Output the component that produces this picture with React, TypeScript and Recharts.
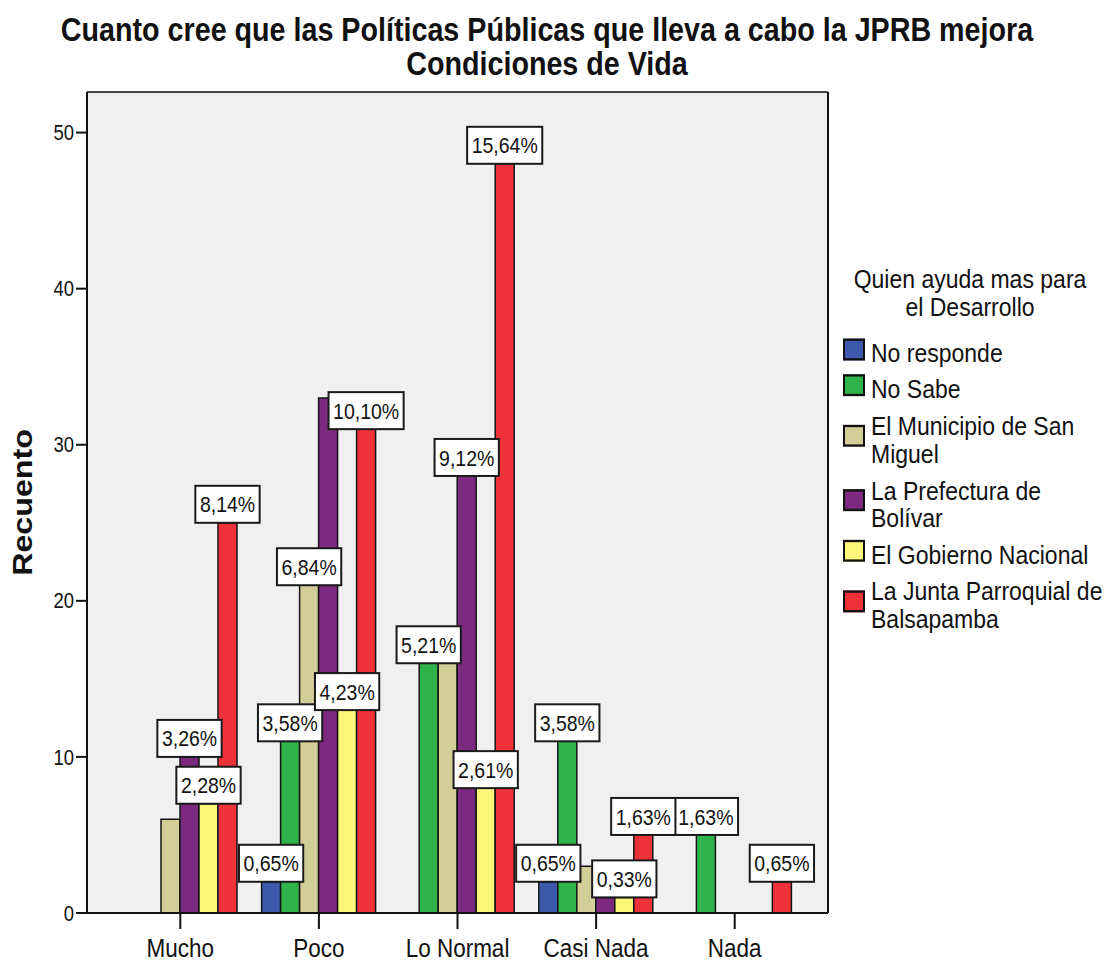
import { BarChart, Bar, Line, XAxis, YAxis, CartesianGrid, Legend, LabelList } from 'recharts'

const categories = ['Mucho', 'Poco', 'Lo Normal', 'Casi Nada', 'Nada']
const seriesNames = [
    'No responde',
    'No Sabe',
    'El Municipio de San Miguel',
    'La Prefectura de Bolívar',
    'El Gobierno Nacional',
    'La Junta Parroquial de Balsapamba',
]
const noResponde = [0, 2, 0, 2, 0]
const noSabe = [0, 11, 16, 11, 5]
const municipio = [6, 21, 16, 3, 0]
const prefectura = [10, 33, 28, 1, 0]
const gobierno = [7, 13, 8, 1, 0]
const junta = [25, 31, 48, 5, 2]

// percent labels SPSS kept visible (the overlapping ones are blank)
const lblNoResponde = ['', '0,65%', '', '0,65%', '']
const lblNoSabe = ['', '3,58%', '5,21%', '3,58%', '1,63%']
const lblMunicipio = ['', '6,84%', '', '', '']
const lblPrefectura = ['3,26%', '', '9,12%', '', '']
const lblGobierno = ['2,28%', '4,23%', '2,61%', '0,33%', '']
const lblJunta = ['8,14%', '10,10%', '15,64%', '1,63%', '0,65%']

const yTicks = [0, 10, 20, 30, 40, 50]

const values = [noResponde, noSabe, municipio, prefectura, gobierno, junta]
const labels = [lblNoResponde, lblNoSabe, lblMunicipio, lblPrefectura, lblGobierno, lblJunta]
const colors = ['#3D59AB', '#2FB44B', '#D3CE97', '#7B2A80', '#FBF77A', '#EE3239']

const data = categories.map((cat, i) => {
    const row: Record<string, string | number> = { cat }
    values.forEach((v, s) => {
        row['s' + s] = v[i]
        row['l' + s] = labels[s][i]
    })
    return row
})

const FONT = "'Liberation Sans', Arial, sans-serif"
const STRETCH = 1.15
const W = 1105
const H = 961
const Y_MAX = 52.6
const MARGIN = { top: 91, right: 276, bottom: 8, left: 27 }
const OVERLAY_MARGIN = { top: 92, right: 277, bottom: 8, left: 27 }

const charW: Record<string, number> = { ',': 0.278, '%': 0.889 }
const textWidth = (s: string, size: number) =>
    s.split('').reduce((a, c) => a + (charW[c] ?? 0.556), 0) * size

const YTick = (props: any) => {
    const { x, y, payload } = props
    return (
        <text
            transform={`translate(${x},${y}) scale(1,${STRETCH})`}
            y={6.6}
            textAnchor="end"
            fontFamily={FONT}
            fontSize={18.5}
            fill="#111"
        >
            {payload.value}
        </text>
    )
}

const XTick = (props: any) => {
    const { x, y, payload } = props
    return (
        <text
            transform={`translate(${x},${y}) scale(1,${STRETCH})`}
            y={22.5}
            textAnchor="middle"
            fontFamily={FONT}
            fontSize={22.5}
            fill="#111"
        >
            {payload.value}
        </text>
    )
}

const renderYLabel = (props: any) => {
    const vb = props.viewBox
    const cx = vb.x + 5
    const cy = vb.y + vb.height / 2
    return (
        <text
            transform={`translate(${cx},${cy}) rotate(-90) scale(${STRETCH},1)`}
            textAnchor="middle"
            fontFamily={FONT}
            fontWeight="bold"
            fontSize={28}
            fill="#111"
        >
            Recuento
        </text>
    )
}

const BoxLabel = (props: any) => {
    const vb = props.viewBox ?? props
    const { x, y, width } = vb
    const value = props.value
    if (!value) return null
    const cx = x + width / 2
    const w = textWidth(String(value), 19.5) + 9
    const h = 37
    return (
        <g>
            <rect x={cx - w / 2} y={y - h} width={w} height={h} fill="#fff" stroke="#1a1a1a" strokeWidth={2} />
            <text
                transform={`translate(${cx},${y - h / 2}) scale(1,${STRETCH})`}
                y={7}
                textAnchor="middle"
                fontFamily={FONT}
                fontSize={19.5}
                fill="#111"
            >
                {value}
            </text>
        </g>
    )
}

const renderLegend = () => (
    <div
        style={{
            transform: `scale(1,${STRETCH})`,
            transformOrigin: '0 0',
            fontFamily: FONT,
            fontSize: 23,
            lineHeight: '24.3px',
            color: '#111',
        }}
    >
        <div style={{ textAlign: 'center', width: 268 }}>
            Quien ayuda mas para
            <br />
            el Desarrollo
        </div>
        <div style={{ marginTop: 15.8 }}>
            {seriesNames.map((name, i) => (
                <div key={name} style={{ display: 'flex', alignItems: 'center', marginTop: i === 0 ? 0 : 7.4 }}>
                    <div
                        style={{
                            width: 22,
                            height: 19,
                            boxSizing: 'border-box',
                            border: '2px solid #111',
                            background: colors[i],
                            marginRight: 6,
                            marginLeft: 7,
                            marginTop: -7,
                            flexShrink: 0,
                        }}
                    />
                    <div style={{ width: 236 }}>{name}</div>
                </div>
            ))}
        </div>
    </div>
)

export default function App() {
    return (
        <div style={{ position: 'absolute', left: 0, top: 0, width: W, height: H, background: '#fff' }}>
            <svg width={W} height={H} style={{ position: 'absolute', left: 0, top: 0 }}>
                <g fontFamily={FONT} fontWeight="bold" fontSize={28.7} fill="#111" textAnchor="middle">
                    <text transform={`translate(547,41) scale(1,${STRETCH})`}>
                        Cuanto cree que las Políticas Públicas que lleva a cabo la JPRB mejora
                    </text>
                    <text transform={`translate(547,75) scale(1,${STRETCH})`}>Condiciones de Vida</text>
                </g>
            </svg>

            <div style={{ position: 'absolute', left: 0, top: 0 }}>
                <BarChart width={W} height={H} data={data} margin={MARGIN} barSize={19} barGap={0}>
                    <CartesianGrid fill="#F0F0F0" horizontal={false} vertical={false} />
                    <XAxis
                        dataKey="cat"
                        height={40}
                        padding={{ left: 24, right: 24 }}
                        tick={<XTick />}
                        tickSize={16}
                        tickMargin={2}
                        axisLine={{ stroke: '#111', strokeWidth: 2 }}
                        tickLine={{ stroke: '#111', strokeWidth: 2 }}
                    />
                    <XAxis
                        xAxisId="top"
                        orientation="top"
                        dataKey="cat"
                        height={1}
                        tick={false}
                        tickLine={false}
                        axisLine={{ stroke: '#444', strokeWidth: 2 }}
                    />
                    <YAxis
                        width={60}
                        domain={[0, Y_MAX]}
                        ticks={yTicks}
                        allowDataOverflow
                        tick={<YTick />}
                        tickSize={11}
                        tickMargin={2}
                        axisLine={{ stroke: '#111', strokeWidth: 2 }}
                        tickLine={{ stroke: '#111', strokeWidth: 2 }}
                        label={{ content: renderYLabel }}
                    />
                    <YAxis
                        yAxisId="right"
                        orientation="right"
                        width={1}
                        domain={[0, Y_MAX]}
                        tick={false}
                        tickLine={false}
                        axisLine={{ stroke: '#111', strokeWidth: 2 }}
                    />
                    <Legend
                        layout="horizontal"
                        verticalAlign="middle"
                        align="center"
                        wrapperStyle={{ position: 'absolute', left: 836, top: 265, width: 269, height: 'auto' }}
                        content={renderLegend}
                    />
                    {seriesNames.map((name, s) => (
                        <Bar
                            key={name}
                            dataKey={'s' + s}
                            name={name}
                            fill={colors[s]}
                            stroke="#151515"
                            strokeWidth={1.5}
                            isAnimationActive={false}
                        />
                    ))}
                    {/* invisible, only ties the top/right frame axes to data so they get drawn */}
                    <Line
                        xAxisId="top"
                        yAxisId="right"
                        dataKey="s5"
                        stroke="none"
                        dot={false}
                        activeDot={false}
                        legendType="none"
                        isAnimationActive={false}
                    />
                </BarChart>
            </div>

            {/* same plot again, bars invisible, so the value boxes sit above every bar */}
            <div style={{ position: 'absolute', left: 0, top: 0, pointerEvents: 'none' }}>
                <BarChart width={W} height={H} data={data} margin={OVERLAY_MARGIN} barSize={19} barGap={0}>
                    <XAxis
                        dataKey="cat"
                        height={40}
                        padding={{ left: 24, right: 24 }}
                        tick={false}
                        tickLine={false}
                        axisLine={false}
                    />
                    <YAxis
                        width={60}
                        domain={[0, Y_MAX]}
                        ticks={yTicks}
                        allowDataOverflow
                        tick={false}
                        tickLine={false}
                        axisLine={false}
                    />
                    {seriesNames.map((name, s) => (
                        <Bar key={name} dataKey={'s' + s} fill="transparent" stroke="none" isAnimationActive={false}>
                            <LabelList dataKey={'l' + s} content={<BoxLabel />} />
                        </Bar>
                    ))}
                </BarChart>
            </div>
        </div>
    )
}
